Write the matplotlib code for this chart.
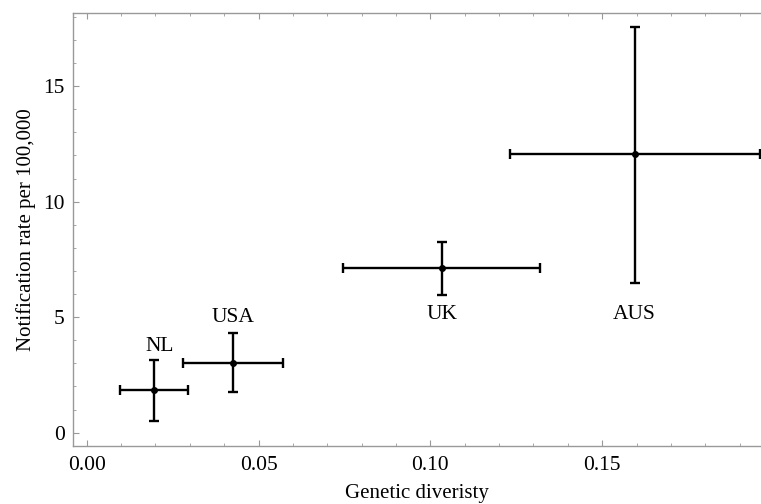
import numpy as np
import matplotlib.pyplot as plt
from matplotlib.ticker import MultipleLocator

countries = ["NL", "USA", "UK", "AUS"]
diversity = [0.0196, 0.0427, 0.1033, 0.1596]
div_low = [0.0097, 0.0280, 0.0747, 0.1232]
div_high = [0.0296, 0.0571, 0.1320, 0.1958]
rate = [1.84, 3.03, 7.13, 12.05]
rate_low = [0.52, 1.76, 5.96, 6.49]
rate_high = [3.15, 4.30, 8.26, 17.58]
label_x = [0.0213, 0.0426, 0.1033, 0.1593]
label_y = [3.75, 5.0, 5.1, 5.1]

plt.rcParams["font.family"] = ["Liberation Serif", "DejaVu Serif"]

fig = plt.figure(figsize=(7.61, 5.04), dpi=100)
ax = fig.add_axes([73 / 761, 1 - 446 / 504, 1 - 73 / 761, (446 - 13) / 504])

x = np.array(diversity)
y = np.array(rate)
xerr = [x - np.array(div_low), np.array(div_high) - x]
yerr = [y - np.array(rate_low), np.array(rate_high) - y]

ax.errorbar(x, y, xerr=xerr, yerr=yerr, fmt="o", color="black", ms=4,
            elinewidth=1.7, capsize=3.5, capthick=1.7)

for name, lx, ly in zip(countries, label_x, label_y):
    ax.text(lx, ly, name, ha="center", va="center", fontsize=15.5)

ax.set_xlim(-0.004, 0.1962)
ax.set_ylim(-0.58, 18.17)

ax.xaxis.set_major_locator(MultipleLocator(0.05))
ax.xaxis.set_minor_locator(MultipleLocator(0.01))
ax.yaxis.set_major_locator(MultipleLocator(5))
ax.yaxis.set_minor_locator(MultipleLocator(1))
ax.xaxis.set_major_formatter(plt.FuncFormatter(lambda v, p: f"{v:.2f}"))

for side in ["left", "bottom", "top"]:
    ax.spines[side].set_color("#999999")
    ax.spines[side].set_linewidth(1.0)
ax.spines["right"].set_visible(False)

ax.tick_params(which="both", direction="in", color="#999999", top=True,
               labelsize=15.5, labelcolor="black")
ax.tick_params(axis="x", pad=7)
ax.tick_params(axis="y", pad=6)
ax.tick_params(which="major", length=4, width=0.8)
ax.tick_params(which="minor", length=2, width=0.6)

ax.set_xlabel("Genetic diveristy", fontsize=15, labelpad=7)
ax.set_ylabel("Notification rate per 100,000", fontsize=15, labelpad=5)

fig.savefig("out.png", dpi=100)
